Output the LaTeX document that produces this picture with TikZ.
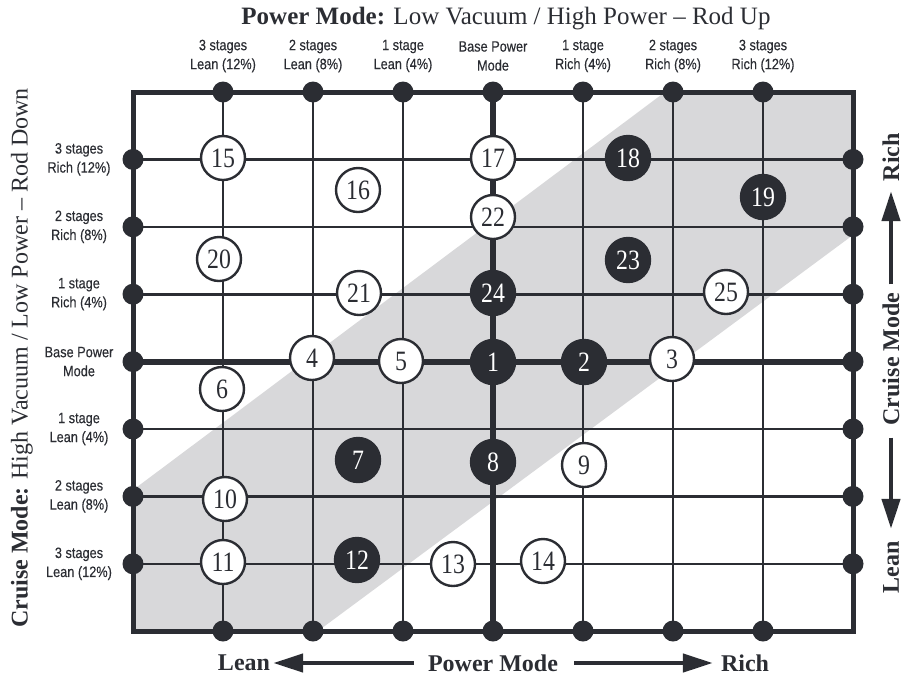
\documentclass[tikz,border=0pt]{standalone}
\usepackage{fontspec}
\setmainfont{Liberation Serif}
\newfontfamily\labfont[FakeStretch=0.85,FakeBold=0.3]{Liberation Sans}
\newfontfamily\numfont[FakeStretch=0.85]{Liberation Serif}
\usetikzlibrary{arrows.meta,positioning}
\definecolor{ink}{HTML}{2B2D33}
\definecolor{band}{HTML}{D8D8DA}
\tikzstyle{grid}=[line width=2.6pt,draw=ink]
\tikzstyle{base}=[line width=6pt,draw=ink]
\tikzstyle{frame}=[line width=5pt,draw=ink]
\tikzstyle{dot}=[circle,fill=ink,minimum size=21pt,inner sep=0pt]
\tikzstyle{wcirc}=[circle,draw=ink,fill=white,line width=2.4pt,minimum size=44pt,inner sep=0pt,
  text=ink,font=\numfont\fontsize{28}{28}\selectfont]
\tikzstyle{bcirc}=[wcirc,fill=ink,text=white]
\tikzstyle{lab}=[align=center,text=ink,font=\labfont\fontsize{15}{19}\selectfont]
\tikzstyle{head}=[text=ink,inner sep=0pt,font=\fontsize{24}{24}\selectfont]
\tikzstyle{bighead}=[head,font=\bfseries\fontsize{24}{24}\selectfont]
\tikzstyle{bigarrow}=[-{Triangle[length=30pt,width=18pt]},line width=4.5pt,draw=ink]

\begin{document}
\begin{tikzpicture}[x=1pt,y=-1pt]
\useasboundingbox (0,0) rectangle (909,681);
% shaded band
\fill[band] (133,490) -- (665,92) -- (853,92) -- (853,235) -- (318,631) -- (133,631) -- cycle;
% frame points
\foreach \i in {1,...,7} {
  \coordinate (t\i) at ({133+90*\i},92);
  \coordinate (b\i) at ({133+90*\i},631);
  \coordinate (l\i) at (133,{92+67.4*\i});
  \coordinate (r\i) at (853,{92+67.4*\i});
}
\foreach \i in {1,2,3,5,6,7} {
  \draw[grid] (t\i) -- (b\i);
  \draw[grid] (l\i) -- (r\i);
}
\draw[base] (t4) -- (b4);
\draw[base] (l4) -- (r4);
\draw[frame] (133,92) rectangle (853,631);
\foreach \i in {1,...,7} {
  \node[dot] (dt\i) at (t\i) {};
  \node[dot] (db\i) at (b\i) {};
  \node[dot] (dl\i) at (l\i) {};
  \node[dot] (dr\i) at (r\i) {};
}
% numbered points
\foreach \n/\x/\y/\s in {1/493/362/bcirc, 2/584/362/bcirc, 3/672/359/wcirc, 4/312/358/wcirc,
  5/401/361/wcirc, 6/222/389/wcirc, 7/358/460/bcirc, 8/493/462/bcirc, 9/584/465/wcirc,
  10/225/499/wcirc, 11/223/562/wcirc, 12/357/560/bcirc, 13/453/564/wcirc, 14/543/561/wcirc,
  15/223/158/wcirc, 16/358/190/wcirc, 17/493/158/wcirc, 18/628/158/bcirc, 19/763/197/bcirc,
  20/219/259/wcirc, 21/359/293/wcirc, 22/493/217/wcirc, 23/628/260/bcirc, 24/493/293/bcirc,
  25/726/292/wcirc}
  \node[\s] (p\n) at (\x,\y) {\n};
% axis labels
\foreach \i/\txt in {1/{3 stages\\Lean (12\%)}, 2/{2 stages\\Lean (8\%)}, 3/{1 stage\\Lean (4\%)},
  4/{Base Power\\Mode}, 5/{1 stage\\Rich (4\%)}, 6/{2 stages\\Rich (8\%)}, 7/{3 stages\\Rich (12\%)}}
  \node[lab] (col\i) at ({133+90*\i},56) {\txt};
\foreach \i/\txt in {1/{3 stages\\Rich (12\%)}, 2/{2 stages\\Rich (8\%)}, 3/{1 stage\\Rich (4\%)},
  4/{Base Power\\Mode}, 5/{1 stage\\Lean (4\%)}, 6/{2 stages\\Lean (8\%)}, 7/{3 stages\\Lean (12\%)}}
  \node[lab] (row\i) at (79,{92+67.4*\i}) {\txt};
\node[head,anchor=base,font=\fontsize{25}{25}\selectfont] (title) at (506,24)
  {\textbf{Power Mode:} Low Vacuum / High Power – Rod Up};
\node[head,rotate=90] (side) at (22,358) {\textbf{Cruise Mode:} High Vacuum / Low Power – Rod Down};
% bottom scale
\node[bighead] (powerB) at (493,663) {Power Mode};
\node[bighead] (leanB) at (244,663) {Lean};
\node[bighead] (richB) at (745,663) {Rich};
\draw[bigarrow,shorten <=14pt,shorten >=3pt] (powerB) -- (leanB);
\draw[bigarrow,shorten <=16pt,shorten >=8pt] (powerB) -- (richB);
% right scale
\node[bighead,rotate=90] (cruiseR) at (891,359) {Cruise Mode};
\node[bighead,rotate=90] (richR) at (891,157) {Rich};
\node[bighead,rotate=90] (leanR) at (891,567) {Lean};
\draw[bigarrow,shorten <=8pt,shorten >=10pt] (cruiseR) -- (richR);
\draw[bigarrow,shorten <=12pt,shorten >=12pt] (cruiseR) -- (leanR);
\end{tikzpicture}
\end{document}
